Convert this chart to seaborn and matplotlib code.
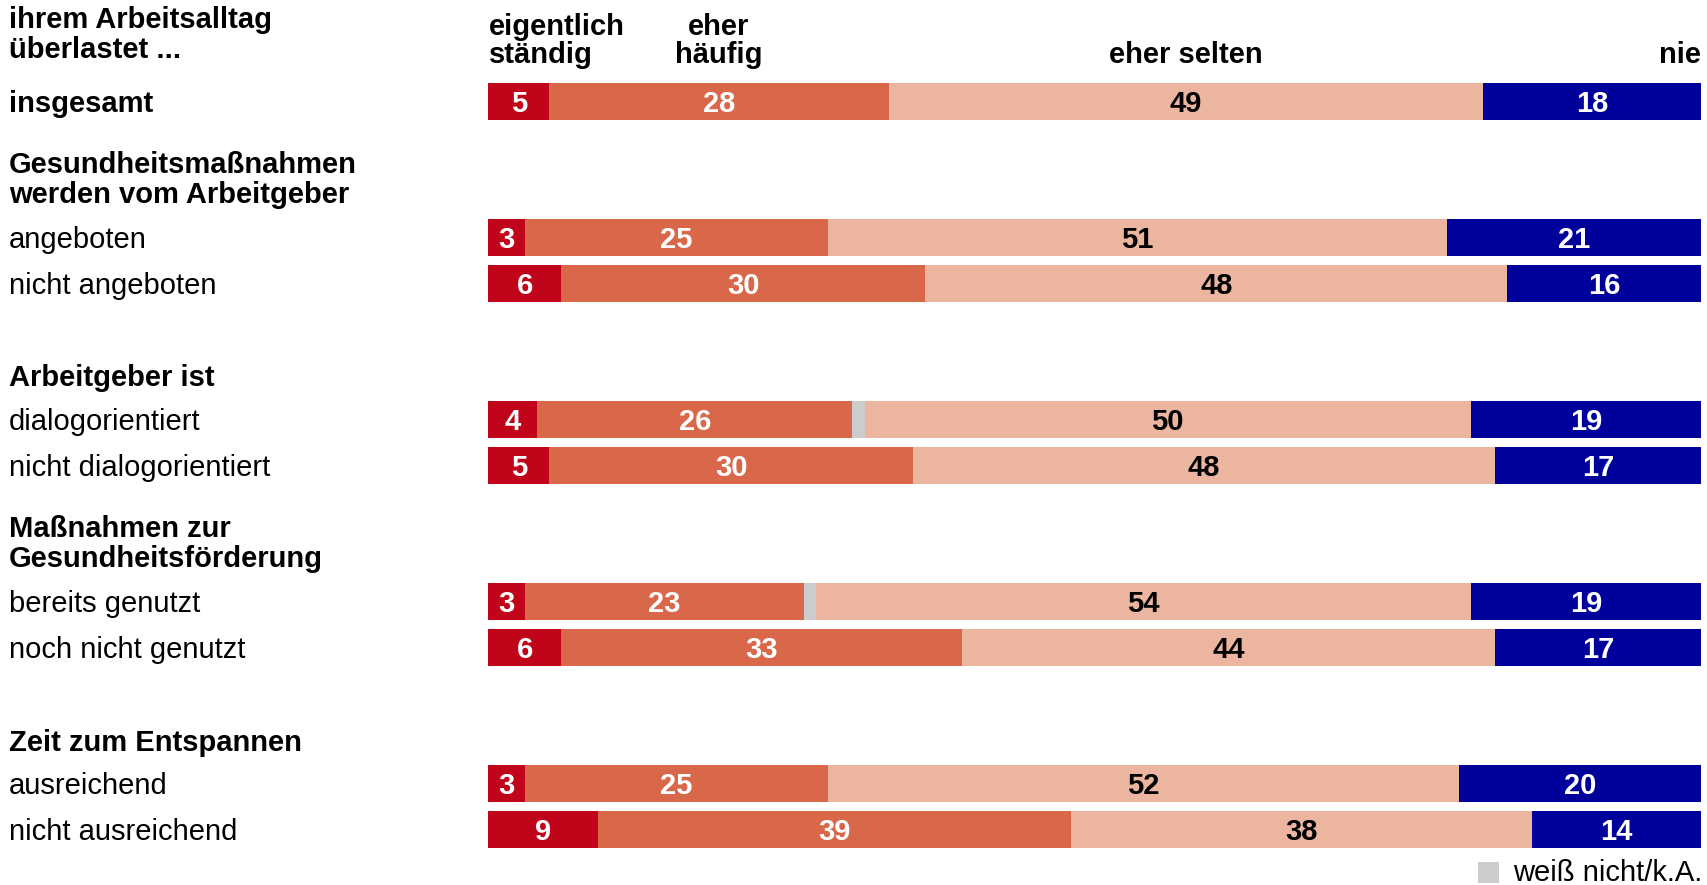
import numpy as np
import pandas as pd
import matplotlib
matplotlib.use("Agg")
import matplotlib.pyplot as plt
import matplotlib.transforms as mtransforms
from matplotlib.patches import Rectangle
import seaborn as sns

# ---- data -------------------------------------------------------------
categories = ["insgesamt", "angeboten", "nicht angeboten",
              "dialogorientiert", "nicht dialogorientiert",
              "bereits genutzt", "noch nicht genutzt",
              "ausreichend", "nicht ausreichend"]
staendig = [5, 3, 6, 4, 5, 3, 6, 3, 9]
haeufig = [28, 25, 30, 26, 30, 23, 33, 25, 39]
weiss_nicht = [0, 0, 0, 1, 0, 1, 0, 0, 0]
selten = [49, 51, 48, 50, 48, 54, 44, 52, 38]
nie = [18, 21, 16, 19, 17, 19, 17, 20, 14]

series_names = ["eigentlich ständig", "eher häufig", "weiß nicht/k.A.", "eher selten", "nie"]
legend_label = "weiß nicht/k.A."

group_titles = [["Gesundheitsmaßnahmen", "werden vom Arbeitgeber"],
                ["Arbeitgeber ist"],
                ["Maßnahmen zur", "Gesundheitsförderung"],
                ["Zeit zum Entspannen"]]
title_lines = ["ihrem Arbeitsalltag", "überlastet ..."]

# ---- layout (pixels of the 1708 x 885 canvas) ------------------------
W, H = 1708, 885
bar_left, bar_right = 488.5, 1701.5
row_y = [101.5, 237.5, 283.9, 419.2, 465.6, 601.5, 647.9, 783.2, 829.6]
bar_h = 37.0
group_title_baselines = [[173, 203], [386], [537, 567], [751]]
title_baselines = [28, 58]
col_head_baselines = [35, 63]
label_x = 9
baseline_shift = 10.5

colors = ["#C0041A", "#D9674A", "#CCCCCC", "#ECB5A0", "#00009B"]
text_colors = ["white", "white", None, "black", "white"]

sns.set_theme(style="white")
plt.rcParams["font.family"] = ["Liberation Sans", "DejaVu Sans"]
FS = 21

fig = plt.figure(figsize=(W / 100, H / 100), dpi=100)
ax = fig.add_axes([bar_left / W, 0, (bar_right - bar_left) / W, 1])

df = pd.DataFrame({
    "category": categories,
    "y": row_y,
    "s0": staendig, "s1": haeufig, "s2": weiss_nicht, "s3": selten, "s4": nie,
})
seg_cols = ["s0", "s1", "s2", "s3", "s4"]
cum = df[seg_cols].cumsum(axis=1)
starts = cum.shift(1, axis=1).fillna(0)

min_gap = np.min(np.diff(np.unique(row_y)))
# stacked bars: draw cumulative totals from the outermost segment inward
for k in range(len(seg_cols) - 1, -1, -1):
    d = pd.DataFrame({"end": cum[seg_cols[k]], "y": df["y"]})
    sns.barplot(data=d, x="end", y="y", orient="y", native_scale=True,
                color=colors[k], saturation=1, errorbar=None,
                width=bar_h / min_gap, linewidth=0, ax=ax)

ax.set_xlim(0, 100)
ax.set_ylim(H, 0)
ax.set_axis_off()

# value labels
for k, col in enumerate(seg_cols):
    if text_colors[k] is None:
        continue
    for i in range(len(df)):
        v = df[col].iloc[i]
        xc = starts[col].iloc[i] + v / 2
        ax.text(xc, row_y[i] + baseline_shift, f"{v}", ha="center", va="baseline",
                color=text_colors[k], fontsize=FS, fontweight="bold")

# row labels
trans = mtransforms.blended_transform_factory(fig.transFigure, ax.transData)
for i, cat in enumerate(categories):
    ax.text(label_x / W, row_y[i] + baseline_shift, cat, transform=trans,
            ha="left", va="baseline", fontsize=FS,
            fontweight="bold" if i == 0 else "normal", color="black")

for lines, bases in zip(group_titles, group_title_baselines):
    for line, b in zip(lines, bases):
        ax.text(label_x / W, b, line, transform=trans, ha="left", va="baseline",
                fontsize=FS, fontweight="bold", color="black")

for line, b in zip(title_lines, title_baselines):
    ax.text(label_x / W, b, line, transform=trans, ha="left", va="baseline",
            fontsize=FS, fontweight="bold", color="black")

# column headings, placed over the "insgesamt" segments
s0 = starts.iloc[0]
v0 = df[seg_cols].iloc[0]
heads = [
    (["eigentlich", "ständig"], 0.0, "left"),
    (["eher", "häufig"], s0["s1"] + v0["s1"] / 2, "center"),
    (["eher selten"], s0["s3"] + v0["s3"] / 2, "center"),
    (["nie"], 100.0, "right"),
]
for lines, xpos, ha in heads:
    bases = col_head_baselines[-len(lines):]
    for line, b in zip(lines, bases):
        ax.text(xpos, b, line, ha=ha, va="baseline", fontsize=FS,
                fontweight="bold", color="black")

# legend for the "don't know" segment
fig.patches.append(Rectangle((1478 / W, 1 - 883 / H), 21 / W, 21 / H,
                             transform=fig.transFigure, facecolor=colors[2],
                             edgecolor="none"))
fig.text(1702 / W, 1 - 881 / H, legend_label, ha="right", va="baseline",
         fontsize=FS, color="black")

fig.savefig("out.png", dpi=100)
